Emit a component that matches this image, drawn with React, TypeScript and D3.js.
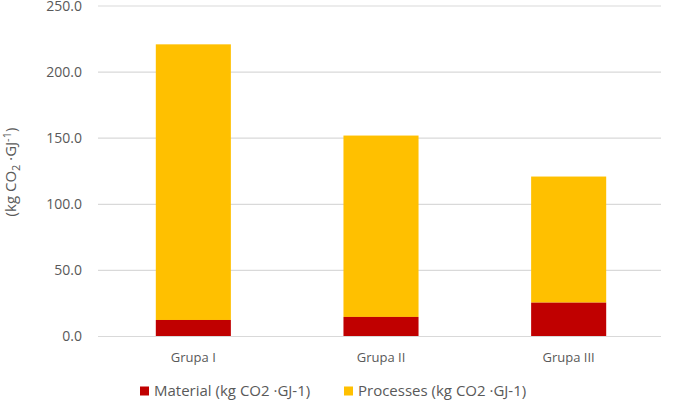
import React from "react";
import * as d3 from "d3";

const categories = ["Grupa I", "Grupa II", "Grupa III"];
const material = [12.5, 14.8, 25.6];
const processes = [208.5, 137.2, 95.4];
const yTicks = [0, 50, 100, 150, 200, 250];
const seriesNames = ["Material (kg CO2 ·GJ-1)", "Processes (kg CO2 ·GJ-1)"];
const colors = ["#C00000", "#FFC000"];

export default function App() {
  const W = 685, H = 404;
  const left = 98, right = 661, top = 6, bottom = 336.5;
  const x = d3.scaleBand<string>().domain(categories).range([left + 1.5, right + 1.5]).paddingInner(0.6).paddingOuter(0.3);
  const y = d3.scaleLinear().domain([0, 250]).range([bottom, top]);
  const font = "'Open Sans', sans-serif";
  const stacked = categories.map((c, i) => ({ c, m: material[i], p: processes[i] }));
  return (
    <svg width={W} height={H} style={{ position: "absolute", left: 0, top: 0, background: "#fff" }} fontFamily={font}>
      {yTicks.map((t) => (
        <g key={t}>
          <line x1={left} x2={right} y1={y(t)} y2={y(t)} stroke="#D9D9D9" strokeWidth={1.2} />
          <text x={82} y={y(t)} dy="0.35em" textAnchor="end" fontSize={14} fill="#595959">{t.toFixed(1)}</text>
        </g>
      ))}
      {stacked.map((d) => (
        <g key={d.c}>
          <rect x={x(d.c)} width={x.bandwidth()} y={y(d.m + d.p)} height={y(d.m) - y(d.m + d.p)} fill={colors[1]} />
          <rect x={x(d.c)} width={x.bandwidth()} y={y(d.m)} height={y(0) - y(d.m)} fill={colors[0]} />
          <text x={(x(d.c) as number) + x.bandwidth() / 2} y={357} dy="0.35em" textAnchor="middle" fontSize={13} fill="#595959">{d.c}</text>
        </g>
      ))}
      <line x1={left} x2={right} y1={y(0)} y2={y(0)} stroke="#D9D9D9" strokeWidth={1.2} />
      <text transform={`translate(16,172) rotate(-90)`} textAnchor="middle" fontSize={15} fill="#595959">
        (kg CO<tspan fontSize={11} dy={4}>2</tspan><tspan dy={-4}> ·GJ</tspan><tspan fontSize={11} dy={-5}>-1</tspan><tspan dy={5}>)</tspan>
      </text>
      {seriesNames.map((s, i) => {
        const lx = i === 0 ? 140 : 344;
        return (
          <g key={s}>
            <rect x={lx} y={386.5} width={9} height={9} fill={colors[i]} />
            <text x={lx + 14} y={391} dy="0.35em" fontSize={15} fill="#595959">{s}</text>
          </g>
        );
      })}
    </svg>
  );
}
